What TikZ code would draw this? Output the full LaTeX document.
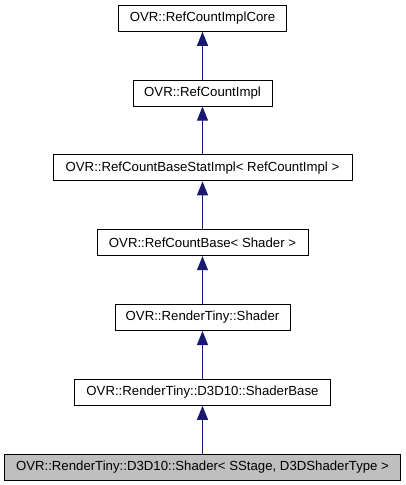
\documentclass[tikz,border=0pt]{standalone}
\usepackage{fontspec}
\setmainfont{Liberation Sans}
\usetikzlibrary{arrows.meta}
\definecolor{edgeblue}{HTML}{191970}
\definecolor{hlgray}{HTML}{BFBFBF}
\tikzset{
  cls/.style={draw=black, line width=1pt, minimum height=26pt, inner sep=0pt, font=\fontsize{13.2}{15}\selectfont, fill=white},
  hl/.style={cls, fill=hlgray},
  inh/.style={draw=edgeblue, line width=1pt, -{Triangle[length=14pt,width=11pt,fill=edgeblue]}},
}
\begin{document}
\begin{tikzpicture}[x=1pt,y=-1pt]
\useasboundingbox (0,0) rectangle (405,485);
\node[cls, minimum width=168pt] (a) at (202.5,18.3) {OVR::RefCountImplCore};
\node[cls, minimum width=139pt] (b) at (202.5,93.1) {OVR::RefCountImpl};
\node[cls, minimum width=299pt] (c) at (202.5,167.9) {OVR::RefCountBaseStatImpl< RefCountImpl >};
\node[cls, minimum width=211pt] (d) at (202.5,242.7) {OVR::RefCountBase< Shader >};
\node[cls, minimum width=175pt] (e) at (202.5,317.5) {OVR::RenderTiny::Shader};
\node[cls, minimum width=256pt] (f) at (202.5,392.3) {OVR::RenderTiny::D3D10::ShaderBase};
\node[hl, minimum width=396pt] (g) at (202.5,467.1) {OVR::RenderTiny::D3D10::Shader< SStage, D3DShaderType >};
\draw[inh] (b) -- (a);
\draw[inh] (c) -- (b);
\draw[inh] (d) -- (c);
\draw[inh] (e) -- (d);
\draw[inh] (f) -- (e);
\draw[inh] (g) -- (f);
\end{tikzpicture}
\end{document}
